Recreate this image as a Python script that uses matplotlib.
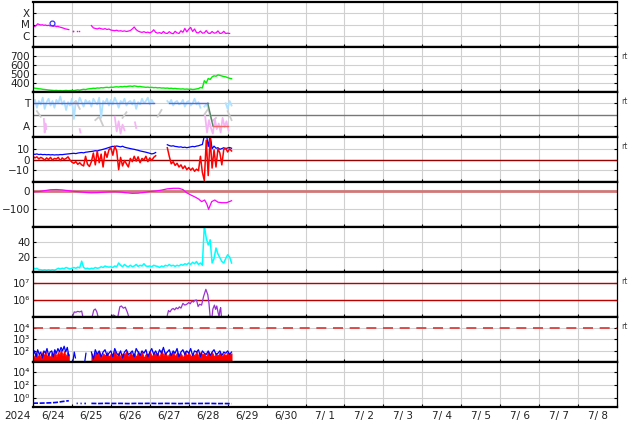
import numpy as np
import matplotlib.pyplot as plt

plt.rcParams['font.family'] = 'DejaVu Sans'

# ---- axis labels ----
day_labels = ['6/24', '6/25', '6/26', '6/27', '6/28', '6/29', '6/30', '7/ 1',
              '7/ 2', '7/ 3', '7/ 4', '7/ 5', '7/ 6', '7/ 7', '7/ 8']
year = '2024'
nan = np.nan

# ---- panel 1: x-ray flux (units 1e-6 W/m2), time in days from 6/24 00UT ----
xr1_vals = [5.9, 6.5, 8.0, 11.5, 10.0, 9.0, 9.5, 8.5, 9.0, 8.0, 8.5, 7.5, 8.0, 7.0,
            7.5, 6.5, 6.8, 6.0, 5.5, 5.0, 4.5, 4.0, 3.8, 3.5]
xr2_t = [1.02, 1.04, 1.13, 1.18]
xr2_vals = [2.7, 2.6, 2.5, 2.6]
xr3_vals = [8.0, 5.0, 4.5, 4.0, 4.8, 4.2, 3.8, 4.3, 3.6, 4.0, 3.2, 3.0, 2.8, 3.1, 2.6,
            2.8, 2.5, 2.7, 2.4, 2.6, 2.9, 4.0, 6.0, 3.5, 2.6, 2.2, 2.0, 2.3, 1.9, 2.1,
            1.8, 2.2, 3.4, 2.0, 1.7, 1.9, 1.6, 2.4, 1.7, 1.6, 2.3, 1.7, 1.5, 2.5, 1.8,
            1.6, 2.8, 2.0, 4.5, 2.2, 3.8, 5.5, 2.4, 4.0, 1.9, 1.8, 2.6, 1.7, 1.8, 2.9,
            1.7, 1.6, 2.4, 1.7, 1.8, 2.7, 1.6, 1.7, 2.5, 1.6, 1.7, 1.6]
flare_t = [0.49]
flare_v = [13.5]

# ---- panel 2: solar wind speed ----
speed_vals = [345, 342, 340, 336, 334, 330, 328, 325, 322, 320,
              318, 316, 318, 314, 316, 313, 315, 318, 314, 316,
              318, 315, 320, 324, 320, 326, 330, 327, 333, 336,
              338, 342, 340, 345, 343, 348, 346, 350, 352, 349,
              354, 352, 356, 358, 355, 360, 357, 362, 360, 364,
              366, 362, 368, 364, 360, 362, 357, 355, 352, 354,
              350, 352, 348, 350, 346, 348, 344, 345, 342, 344,
              340, 342, 338, 340, 336, 335, 333, 335, 331, 333,
              330, 332, 328, 330, 334, 338, 350, 345, 425, 400,
              450, 440, 468, 480, 475, 490, 485, 478, 472, 468,
              460, 452, 448]

# ---- panel 3: IMF sector (T = +1, A = -1) ----
sky_vals = [1.0, 1.3, 0.6, 1.2, 0.9, 1.5, 0.5, 1.1, 1.4, 0.8,
            1.2, 0.6, 1.3, 1.0, 1.6, 0.9, 1.2, 0.4, 1.1, 0.8,
            1.4, -0.4, 1.2, 0.9, 1.5, 1.1, 0.7, 1.3, 1.0, 1.2,
            0.7, 1.4, 1.1, 0.9, 1.5, -0.3, 1.2, 1.0, 1.4, 0.8,
            1.3, 0.9, 1.5, 1.1, 0.6, 1.2, 1.0, 1.4, 0.8, 1.1,
            1.2, 0.9, 1.3, 0.5, 1.1, 0.9, 1.4, 1.0, 1.2, 1.5,
            0.9, 1.3, 1.0, nan, nan, nan, nan, nan, nan, 1.2,
            1.0, 1.3, 0.8, 1.1, 1.2, 0.9, 1.0, 1.3, 0.7, 1.1,
            1.2, 0.8, 1.0, 1.4, 0.9, 1.1, 0.6, nan, 0.7, 0.9,
            0.6, nan, nan, nan, nan, nan, nan, nan, nan, 1.0,
            0.5, 1.2, 0.8]
gray_vals = [nan, 0.3, -0.2, nan, nan, nan, nan, nan, nan, nan,
             0.9, 1.2, 0.5, nan, nan, nan, -0.5, -0.2, -1.0, nan,
             -1.8, nan, nan, -0.3, 0.2, nan, nan, nan, -1.8, nan,
             nan, nan, -0.2, 0.4, nan, nan, nan, nan, nan, nan,
             nan, nan, nan, nan, 0.0, 0.5, -0.6, -0.3, nan, nan,
             0.3, -0.5]
pink_t = [0.28, 0.30, 0.32, 0.34, nan, 1.20, 1.22, nan, 2.10, 2.15, 2.20, 2.25, 2.30,
          2.35, nan, 2.62, 2.65, nan, 4.42, 4.47, 4.52, 4.57, 4.62, 4.67, 4.72, 4.77,
          4.82, 4.87, 4.92, 4.97, 5.02]
pink_v = [-0.4, -1.6, -0.8, -1.3, nan, -1.3, -1.6, nan, -0.2, -1.5, -0.6, -1.7, -0.9,
          -1.4, nan, -0.7, -1.2, nan, -0.1, -1.6, -0.5, -1.2, -1.7, -0.4, -1.3, -0.8,
          -1.6, -0.3, -1.1, -0.6, -1.4]
toward_t = [0.0, 3.1, nan, 3.5, 4.49]
toward_v = [1, 1, nan, 1, 1]
switch_t = [4.49, 4.62]
switch_v = [1, -1]
away_t = [4.62, 5.0]
away_v = [-1, -1]

# ---- panel 4: IMF Bt / Bz (nT) ----
bt1_vals = [5.0, 4.8, 5.2, 4.6, 4.9, 4.5, 4.7, 4.4, 4.6, 4.3,
            4.5, 4.2, 4.4, 4.3, 4.6, 4.5, 4.8, 5.0, 5.2, 5.4,
            5.6, 5.8, 5.5, 6.0, 6.3, 6.5, 6.2, 6.8, 7.0, 7.3,
            7.5, 7.8, 8.2, 8.0, 8.6, 9.0, 9.5, 10.0, 10.6, 11.2,
            11.8, 12.3, 12.0, 12.6, 12.2, 11.8, 12.4, 11.5, 11.0, 10.6,
            10.2, 9.8, 9.5, 9.0, 8.6, 8.0, 7.6, 7.2, 6.8, 6.3,
            5.8, 5.2, 5.6, 6.5]
bt2_vals = [13.8, 13.0, 12.5, 12.8, 12.2, 12.0, 11.6, 11.8, 11.2, 11.5, 11.0, 11.4,
            11.8, 12.2, 11.9, 12.5, 12.8, 13.5, 14.0, 22.0, 25.0, 12.0, 23.0, 10.0,
            12.5, 10.5, 11.0, 9.5, 10.2, 11.0, 10.0, 10.8, 11.2, 10.5]
bz1_vals = [3.0, 1.5, 2.5, 0.5, 2.0, 1.0, -0.5, 1.5, 0.0, 2.0,
            -0.5, 1.0, 0.5, 2.0, -1.0, 1.5, 0.0, 1.0, 2.5, -0.5,
            -2.5, -3.5, -2.0, -4.5, -3.0, -5.0, -6.0, 3.0, -4.5, -6.5,
            -2.0, 6.0, -5.0, 8.0, -3.0, 5.0, -7.0, 7.5, 2.0, 9.0,
            11.0, 4.0, 12.5, 8.0, -9.5, 2.0, -6.0, -1.0, -4.0, -7.0,
            1.0, -2.0, 3.0, -1.5, 2.5, -3.0, 1.0, -0.5, 3.0, -2.0,
            1.5, -1.0, 2.0, 3.5]
bz2_vals = [11.0, 3.0, -4.0, -2.0, -5.5, -3.5, -7.0, -5.0, -8.5, -6.0, -9.5, -7.5,
            -10.0, -8.0, -11.0, -9.0, -10.5, 3.0, -12.0, -19.5, 18.0, -15.0, 20.0, -8.0,
            9.0, -7.0, 10.0, 6.0, -5.0, 9.5, 10.5, 7.0, 10.0, 8.0]

# ---- panel 5: Dst (nT) ----
dst_t = [0.0, 0.15, 0.3, 0.45, 0.6, 0.75, 0.9, 1.05, 1.2, 1.35, 1.5, 1.65, 1.8, 1.95,
         2.1, 2.25, 2.4, 2.55, 2.7, 2.85, 3.0, 3.15, 3.3, 3.45, 3.6, 3.75, 3.85, 3.95,
         4.05, 4.15, 4.25, 4.33, 4.41, 4.47, 4.51, 4.55, 4.59, 4.67, 4.75, 4.85, 4.97, 5.1]
dst_v = [-4, -3, 2, 7, 8, 6, 2, -2, -5, -8, -10, -9, -7, -5, -4, -6, -10, -13, -12, -8,
         -3, 0, 5, 12, 15, 15, 8, -10, -22, -32, -44, -59, -50, -75, -102, -80, -59, -50,
         -62, -65, -65, -54]

# ---- panel 6: solar wind density ----
dens_vals = [6, 4, 5, 3, 3, 2.5, 3, 2.5, 3, 2.5,
             3, 2.5, 3.5, 5, 4, 5, 4.5, 6, 5, 4,
             5, 6, 5, 6.5, 5.5, 14.5, 6, 4.5, 5, 4,
             5, 4.5, 6, 5, 5.5, 7, 6, 8, 7, 6.5,
             7, 6, 8, 7, 12, 9, 7, 10, 8, 7,
             9, 7, 8, 10, 7.5, 9, 8, 11, 8, 7.5,
             8, 7, 9, 8, 7.5, 6, 8, 7, 9, 8,
             10, 8, 9, 7.5, 9, 8, 10, 9, 11, 10,
             12, 10, 13, 11, 14, 10, 12, 9,
             62, 45, 36, 43, 12, 18, 32, 24, 19, 14, 12, 18, 23, 20, 12]

# ---- panel 7: electron flux (log10) ----
elec_t = [1.02, 1.06, 1.10, 1.15, 1.20, 1.25, 1.28, nan, 1.52, 1.56, 1.60, 1.64, 1.67, nan,
          2.02, 2.06, 2.10, nan, 2.18, 2.23, 2.27, 2.32, 2.37, 2.42, 2.46, nan,
          3.45, 3.48, 3.52, 3.56, 3.60, 3.64, 3.68, 3.72, 3.76, 3.80, 3.85, 3.90, 3.95, 4.00,
          4.04, 4.08, 4.12, 4.16, 4.20, 4.24, 4.28, 4.33, 4.38, 4.44, 4.49, 4.52, 4.55, nan,
          4.60, 4.62, 4.66, 4.69, 4.72, 4.75, 4.78, 4.80, 4.82, 4.84]
elec_v = [5.06, 5.30, 5.28, 5.33, 5.30, 5.35, 5.02, nan, 5.02, 5.40, 5.47, 5.30, 5.02, nan,
          5.02, 5.12, 5.08, nan, 5.02, 5.60, 5.65, 5.52, 5.58, 5.30, 5.02, nan,
          5.10, 5.38, 5.30, 5.45, 5.50, 5.42, 5.55, 5.48, 5.60, 5.52, 5.80, 5.70, 5.75, 5.85,
          5.78, 5.94, 5.88, 5.98, 6.00, 5.62, 5.75, 5.70, 6.20, 6.63, 6.30, 5.80, 5.00, nan,
          5.05, 5.47, 5.70, 5.45, 5.65, 5.30, 5.00, 5.40, 5.55, 5.02]

# ---- panel 8: proton flux (log10) ----
pr_red1 = [1.7, 1.4, 1.9, 1.5, 1.8, 1.3, 1.9, 1.6, 2.0, 1.5, 1.8, 1.4, 1.9, 1.6, 2.0,
           1.5, 1.9, 1.7, 2.1, 1.6, 2.0, 1.5, 1.9, 1.7]
pr_red2 = [1.8, 1.5, 1.9, 1.6, 2.0, 1.4, 1.8, 1.6, 1.9, 1.5,
           1.8, 1.6, 2.0, 1.5, 1.9, 1.4, 1.8, 1.7, 2.0, 1.5,
           1.9, 1.6, 1.8, 1.5, 2.0, 1.6, 1.9, 1.4, 1.8, 1.6,
           2.0, 1.5, 1.9, 1.7, 1.8, 1.5, 2.1, 1.6, 1.9, 1.5,
           1.8, 1.6, 2.0, 1.5, 1.9, 1.6, 1.8, 1.4, 2.0, 1.6,
           1.9, 1.5, 1.8, 1.6, 2.0, 1.5, 1.9, 1.7, 1.8, 1.5,
           2.0, 1.6, 1.9, 1.5, 1.8, 1.6, 1.9, 1.5, 1.8, 1.6,
           1.9, 1.7, 1.8]
pr_blue1 = [1.6, 2.0, 1.5, 2.1, 1.7, 1.9, 1.4, 2.0, 1.8, 2.2, 1.6, 1.9, 2.0, 1.5, 2.1,
            1.8, 2.2, 1.9, 2.3, 2.0, 2.4, 1.9, 2.3, 1.6]
pr_blue_t = [1.03, 1.06, 1.09, nan, 1.33, 1.36]
pr_blue_v = [1.2, 1.9, 1.4, nan, 1.1, 1.8]
pr_blue2 = [1.9, 1.3, 2.1, 1.7, 2.0, 1.5, 1.9, 2.1, 1.6, 1.8,
            2.0, 1.5, 2.2, 1.8, 1.6, 2.0, 1.4, 1.9, 2.1, 1.7,
            1.8, 2.0, 1.5, 2.2, 1.9, 1.6, 2.0, 1.8, 2.1, 1.5,
            1.9, 2.2, 1.7, 2.0, 1.6, 2.1, 1.8, 2.3, 1.7, 1.9,
            2.1, 1.6, 2.0, 1.8, 2.2, 1.5, 1.9, 2.1, 1.7, 2.0,
            1.8, 2.2, 1.6, 2.0, 1.9, 2.1, 1.5, 2.0, 1.8, 1.7,
            2.0, 1.6, 1.9, 2.1, 1.7, 1.8, 2.0, 1.6, 1.9, 1.8,
            2.0, 1.7, 1.9]

# ---- panel 9: (log10) ----
p9_1 = [-0.78, -0.76, -0.77, -0.75, -0.74, -0.72, -0.70, -0.66, -0.60, -0.52, -0.45, -0.40]
p9_t = [1.12, 1.15, nan, 1.22, 1.25, nan, 1.32, 1.36]
p9_v = [-0.8, -0.8, nan, -0.82, -0.8, nan, -0.8, -0.82]
p9_2 = [-0.80, -0.82, -0.79, -0.81, -0.80, -0.83, -0.80, -0.81, -0.79, -0.82,
        -0.80, -0.81, -0.83, -0.80, -0.82, -0.81, -0.80, -0.83, -0.82, -0.84]

# thresholds / reference levels
bz_zero = 0
dst_zero = 0
elec_levels = [1e6, 1e7]
proton_level = 1e4
sector_mid = 0


def tt(t0, t1, vals):
    return np.linspace(t0, t1, len(vals))


W, H = 634, 424
left, right = 33, 617
top0, ph = 2, 45
grid_c = '#d0d0d0'
fs = 7.5

fig = plt.figure(figsize=(W / 100, H / 100), dpi=100)
axs = []
for i in range(9):
    top = top0 + ph * i
    ax = fig.add_axes([left / W, 1 - (top + ph) / H, (right - left) / W, ph / H])
    ax.set_xlim(0, 15)
    ax.set_xticks(np.arange(16))
    ax.set_xticks(np.arange(15) + 0.5, minor=True)
    ax.tick_params(axis='x', which='both', labelbottom=False, direction='in', length=2)
    ax.tick_params(axis='x', which='minor', length=0)
    ax.tick_params(axis='y', which='both', direction='in', length=2, right=True,
                   labelsize=fs, pad=2, labelcolor='#222222')
    ax.tick_params(axis='y', which='minor', length=0)
    ax.grid(True, which='major', color=grid_c, lw=0.8)
    ax.set_axisbelow(True)
    for s in ['top', 'bottom']:
        ax.spines[s].set_linewidth(1.6)
    for s in ['left', 'right']:
        ax.spines[s].set_linewidth(0.9)
    axs.append(ax)

# panel 1
ax = axs[0]
ax.set_yscale('log')
ax.plot(tt(0, 0.92, xr1_vals), np.array(xr1_vals) * 1e-6, color='#ff00ff', lw=0.9)
ax.plot(xr2_t, np.array(xr2_vals) * 1e-6, 's', color='#ff00ff', ms=1.0, mew=0)
ax.plot(tt(1.5, 5.05, xr3_vals), np.array(xr3_vals) * 1e-6, color='#ff00ff', lw=0.9)
ax.plot(flare_t, np.array(flare_v) * 1e-6, 'o', mfc='none', mec='#3333ff', ms=3.5, mew=0.9)
ax.set_ylim(1e-7, 1e-3)
ax.set_yticks([1e-4, 1e-5, 1e-6])
ax.set_yticklabels(['X', 'M', 'C'])
ax.minorticks_off()
ax.set_xticks(np.arange(16))

# panel 2
ax = axs[1]
ax.plot(tt(0, 5.1, speed_vals), speed_vals, color='#00ee00', lw=1.0)
ax.set_ylim(300, 800)
ax.set_yticks([400, 500, 600, 700])

# panel 3
ax = axs[2]
ax.axhline(sector_mid, color='#777777', lw=1.0)
ax.plot(tt(0, 5.1, sky_vals), sky_vals, color='#b0e2ff', lw=1.3)
ax.plot(tt(0, 5.1, gray_vals), gray_vals, color='#cccccc', lw=1.3)
ax.plot(pink_t, pink_v, color='#f5b5f5', lw=1.3)
ax.plot(toward_t, toward_v, color='#5a66ee', lw=1.0)
ax.plot(switch_t, switch_v, color='#558866', lw=1.0)
ax.plot(away_t, away_v, color='#ee6666', lw=1.0)
ax.set_ylim(-2, 2)
ax.set_yticks([1, -1])
ax.set_yticklabels(['T', 'A'])

# panel 4
ax = axs[3]
ax.axhline(bz_zero, color='#990000', lw=1.0)
ax.plot(tt(0, 3.15, bt1_vals), bt1_vals, color='#0000ff', lw=0.9)
ax.plot(tt(3.45, 5.1, bt2_vals), bt2_vals, color='#0000ff', lw=0.9)
ax.plot(tt(0, 3.15, bz1_vals), bz1_vals, color='#ff0000', lw=1.1)
ax.plot(tt(3.45, 5.1, bz2_vals), bz2_vals, color='#ff0000', lw=1.1)
ax.set_ylim(-21, 21)
ax.set_yticks([10, 0, -10])
ax.set_yticklabels(['10', '0', '\u221210'])

# panel 5
ax = axs[4]
ax.axhline(dst_zero, color='#d07878', lw=2.0)
ax.plot(dst_t, dst_v, color='#ff00ff', lw=0.9)
ax.set_ylim(-200, 50)
ax.set_yticks([0, -100])
ax.set_yticklabels(['0', '\u2212100'])

# panel 6
ax = axs[5]
ax.plot(tt(0, 5.1, dens_vals), dens_vals, color='#00ffff', lw=1.1)
ax.set_ylim(0, 60)
ax.set_yticks([20, 40])

# panel 7
ax = axs[6]
ax.set_yscale('log')
for lv in elec_levels:
    ax.axhline(lv, color='#bb0000', lw=1.0)
ax.plot(elec_t, 10 ** np.array(elec_v), color='#9933cc', lw=0.9)
ax.set_ylim(1e5, 10 ** 7.65)
ax.set_yticks([1e6, 1e7])
ax.set_yticklabels(['10\u2076', '10\u2077'])
ax.minorticks_off()
ax.set_xticks(np.arange(16))

# panel 8
ax = axs[7]
ax.set_yscale('log')
ax.axhline(proton_level, color='#dd3333', lw=1.2, dashes=(6, 4))
ax.plot(tt(0, 0.92, pr_blue1), 10 ** np.array(pr_blue1), color='#0000ff', lw=0.9)
ax.plot(pr_blue_t, 10 ** np.array(pr_blue_v), color='#0000ff', lw=0.9)
ax.plot(tt(1.5, 5.1, pr_blue2), 10 ** np.array(pr_blue2), color='#0000ff', lw=0.9)
ax.fill_between(tt(0, 0.92, pr_red1), 10, 10 ** np.array(pr_red1), color='#ff0000', lw=0.6)
ax.fill_between(tt(1.5, 5.1, pr_red2), 10, 10 ** np.array(pr_red2), color='#ff0000', lw=0.6)
ax.set_ylim(10 ** 1.05, 10 ** 4.9)
ax.set_yticks([1e2, 1e3, 1e4])
ax.set_yticklabels(['10\u00b2', '10\u00b3', '10\u2074'])
ax.minorticks_off()
ax.set_xticks(np.arange(16))

# panel 9
ax = axs[8]
ax.set_yscale('log')
ax.plot(tt(0, 0.92, p9_1), 10 ** np.array(p9_1), color='#0000ff', lw=1.2, dashes=(3, 1))
ax.plot(p9_t, 10 ** np.array(p9_v), color='#0000ff', lw=1.2, dashes=(3, 1))
ax.plot(tt(1.5, 5.1, p9_2), 10 ** np.array(p9_2), color='#0000ff', lw=1.2, dashes=(3, 1))
ax.set_ylim(10 ** -1.35, 10 ** 5.5)
ax.set_yticks([1e0, 1e2, 1e4])
ax.set_yticklabels(['10\u2070', '10\u00b2', '10\u2074'])
ax.minorticks_off()
ax.set_xticks(np.arange(16))
ax.set_xticks(np.arange(15) + 0.5, minor=True)
ax.set_xticklabels(day_labels, minor=True)
ax.tick_params(axis='x', which='minor', labelbottom=True, labelsize=fs, pad=3,
               labelcolor='#222222', length=0)

# "rt" tags
for i in [1, 2, 3, 6, 7]:
    axs[i].text(1.007, 0.79, 'rt', transform=axs[i].transAxes, fontsize=5.5,
                color='#444444', va='center')

fig.text(17 / W, 1 - 416 / H, year, fontsize=fs, color='#222222', ha='center', va='center')

fig.savefig('out.png', dpi=100)
